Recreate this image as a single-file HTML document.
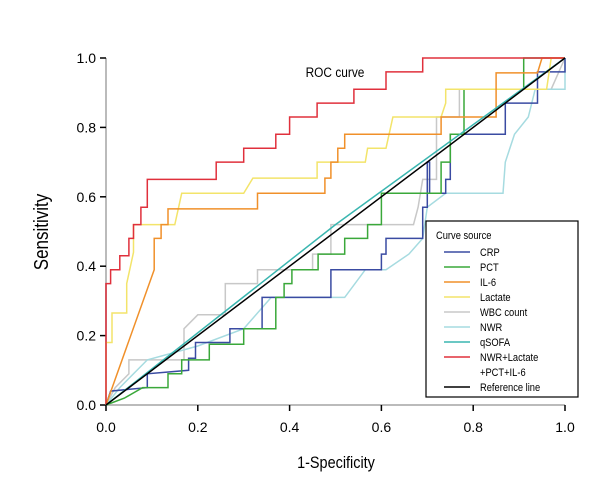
<!DOCTYPE html>
<html><head><meta charset="utf-8"><style>
body{margin:0;background:#fff;}
svg{display:block;font-family:"Liberation Sans",sans-serif;}
</style></head><body>
<svg id="chart" width="600" height="500">
<text x="335" y="77" font-size="14" text-anchor="middle" transform="translate(335,0) scale(0.85,1) translate(-335,0)">ROC curve</text>
<text x="0" y="0" font-size="20" text-anchor="middle" transform="translate(48,232) rotate(-90) scale(0.85,1)">Sensitivity</text>
<text x="336" y="468" font-size="17" text-anchor="middle" transform="translate(336,0) scale(0.85,1) translate(-336,0)">1-Specificity</text>
<g id="axes"></g>
<g id="series"></g>
<g id="legend">
<rect x="426" y="221" width="152" height="176" fill="#fff" stroke="#000" stroke-width="1.2"/>
<text x="436" y="239" font-size="11" transform="translate(436,0) scale(0.85,1) translate(-436,0)">Curve source</text>
</g>
</svg>
<script>
const seriesNames = ["WBC count","NWR","qSOFA","CRP","PCT","Lactate","IL-6","NWR+Lactate+PCT+IL-6","Reference line"];
const wbcFpr=[0,0.02,0.05,0.05,0.17,0.17,0.2,0.26,0.26,0.33,0.33,0.45,0.45,0.49,0.49,0.67,0.68,0.685,0.69,0.72,0.72,0.77,0.77,0.97,1];
const wbcTpr=[0,0.05,0.09,0.13,0.13,0.22,0.26,0.26,0.35,0.35,0.39,0.39,0.435,0.435,0.52,0.52,0.57,0.61,0.65,0.65,0.83,0.83,0.91,0.91,1];
const nwrFpr=[0,0.03,0.09,0.2,0.3,0.36,0.52,0.565,0.61,0.66,0.69,0.70,0.74,0.865,0.87,0.89,0.92,0.935,1,1];
const nwrTpr=[0,0.05,0.13,0.17,0.22,0.31,0.31,0.39,0.39,0.435,0.48,0.57,0.61,0.61,0.70,0.78,0.83,0.91,0.91,1];
const qsofaFpr=[0,0.5,1];
const qsofaTpr=[0,0.52,1];
const crpFpr=[0,0.01,0.09,0.09,0.18,0.18,0.195,0.195,0.27,0.27,0.34,0.34,0.49,0.49,0.60,0.60,0.61,0.61,0.69,0.69,0.70,0.70,0.705,0.705,0.74,0.74,0.75,0.75,0.87,0.87,0.94,0.94,1,1];
const crpTpr=[0,0.04,0.05,0.09,0.1,0.135,0.135,0.18,0.18,0.22,0.22,0.31,0.31,0.39,0.39,0.435,0.435,0.48,0.48,0.57,0.57,0.70,0.70,0.61,0.61,0.65,0.65,0.78,0.78,0.87,0.87,0.96,0.96,1];
const pctFpr=[0,0.04,0.08,0.135,0.135,0.165,0.165,0.225,0.225,0.30,0.30,0.37,0.37,0.388,0.388,0.405,0.405,0.462,0.462,0.52,0.52,0.57,0.57,0.60,0.60,0.73,0.73,0.75,0.75,0.78,0.78,0.91,0.91,1];
const pctTpr=[0,0.02,0.05,0.05,0.09,0.09,0.13,0.13,0.175,0.175,0.22,0.22,0.31,0.31,0.35,0.35,0.39,0.39,0.435,0.435,0.48,0.48,0.52,0.52,0.61,0.61,0.70,0.70,0.78,0.78,0.91,0.91,1,1];
const lacFpr=[0,0,0.013,0.013,0.045,0.045,0.06,0.06,0.15,0.165,0.30,0.32,0.46,0.46,0.565,0.57,0.61,0.625,0.73,0.74,0.74,0.96,0.97,1];
const lacTpr=[0,0.18,0.18,0.265,0.265,0.35,0.44,0.52,0.52,0.61,0.61,0.654,0.654,0.70,0.70,0.74,0.74,0.83,0.83,0.87,0.91,0.91,1,1];
const il6Fpr=[0,0.105,0.105,0.12,0.12,0.135,0.135,0.33,0.33,0.477,0.477,0.49,0.49,0.505,0.505,0.52,0.52,0.73,0.73,0.85,0.85,0.94,0.95,1];
const il6Tpr=[0,0.39,0.48,0.48,0.52,0.52,0.565,0.565,0.61,0.61,0.654,0.654,0.70,0.70,0.74,0.74,0.78,0.78,0.83,0.83,0.957,0.957,1,1];
const comboFpr=[0,0,0.01,0.01,0.03,0.03,0.05,0.05,0.06,0.06,0.076,0.076,0.09,0.09,0.24,0.24,0.30,0.30,0.37,0.37,0.40,0.40,0.46,0.46,0.54,0.54,0.61,0.61,0.69,0.69,1];
const comboTpr=[0,0.35,0.35,0.39,0.39,0.43,0.43,0.48,0.48,0.52,0.52,0.57,0.57,0.65,0.65,0.70,0.70,0.74,0.74,0.78,0.78,0.83,0.83,0.87,0.87,0.91,0.91,0.96,0.96,1,1];
const refFpr=[0,1];
const refTpr=[0,1];
const tickValues=[0,0.2,0.4,0.6,0.8,1.0];
const tickLabels=["0.0","0.2","0.4","0.6","0.8","1.0"];

const X0=106,X1=565,Y0=405,Y1=58;
function sx(v){return X0+v*(X1-X0);}
function sy(v){return Y0-v*(Y0-Y1);}
const NS="http://www.w3.org/2000/svg";
function mk(tag,attrs,parent){const e=document.createElementNS(NS,tag);for(const k in attrs)e.setAttribute(k,attrs[k]);parent.appendChild(e);return e;}
const axes=document.getElementById('axes');
let a=mk('line',{x1:X0,y1:Y1,x2:X0,y2:Y0,stroke:'#bbb','stroke-width':2},axes);


a=mk('line',{x1:X0,y1:Y0,x2:X1,y2:Y0,stroke:'#bbb','stroke-width':2},axes);


tickValues.forEach((v,i)=>{
  let t=mk('line',{x1:X0-6,y1:sy(v),x2:X0,y2:sy(v),stroke:'#000','stroke-width':1.5},axes);
  
  
  let l=mk('text',{x:X0-10,y:sy(v)+5,'font-size':14,'text-anchor':'end'},axes);
  l.textContent=tickLabels[i];
  
  
  t=mk('line',{x1:sx(v),y1:Y0,x2:sx(v),y2:Y0+6,stroke:'#000','stroke-width':1.5},axes);
  
  
  l=mk('text',{x:sx(v),y:Y0+27,'font-size':14,'text-anchor':'middle'},axes);
  l.textContent=tickLabels[i];
  
  
});
const series=[
 [wbcFpr,wbcTpr,'#c8c8c8','wbc-curve'],
 [nwrFpr,nwrTpr,'#a6dbe0','nwr-curve'],
 [crpFpr,crpTpr,'#3a4ba2','crp-curve'],
 [pctFpr,pctTpr,'#3aa83a','pct-curve'],
 [lacFpr,lacTpr,'#f3e46a','lactate-curve'],
 [il6Fpr,il6Tpr,'#f0902a','il6-curve'],
 [comboFpr,comboTpr,'#e0303c','combo-curve'],
 [qsofaFpr,qsofaTpr,'#3ab6b0','qsofa-curve'],
 [refFpr,refTpr,'#000','reference-line']
];
const sg=document.getElementById('series');
series.forEach(s=>{
  const pts=s[0].map((f,i)=>sx(f).toFixed(1)+','+sy(s[1][i]).toFixed(1)).join(' ');
  const p=mk('polyline',{points:pts,fill:'none',stroke:s[2],'stroke-width':1.5},sg);
  
  
});
const leg=document.getElementById('legend');
const legItems=[["CRP",'#3a4ba2'],["PCT",'#3aa83a'],["IL-6",'#f0902a'],["Lactate",'#f3e46a'],["WBC count",'#c8c8c8'],["NWR",'#a6dbe0'],["qSOFA",'#3ab6b0'],["NWR+Lactate",'#e0303c'],["+PCT+IL-6",null],["Reference line",'#000']];
legItems.forEach((it,i)=>{
  const y=252+i*15;
  if(it[1]){
    const ln=mk('line',{x1:444,y1:y,x2:470,y2:y,stroke:it[1],'stroke-width':1.5},leg);
    
    
  }
  const t=mk('text',{x:480,y:y+4,'font-size':11,transform:'translate(480,0) scale(0.85,1) translate(-480,0)'},leg);
  t.textContent=it[0];
  
  
});
</script>
</body></html>
